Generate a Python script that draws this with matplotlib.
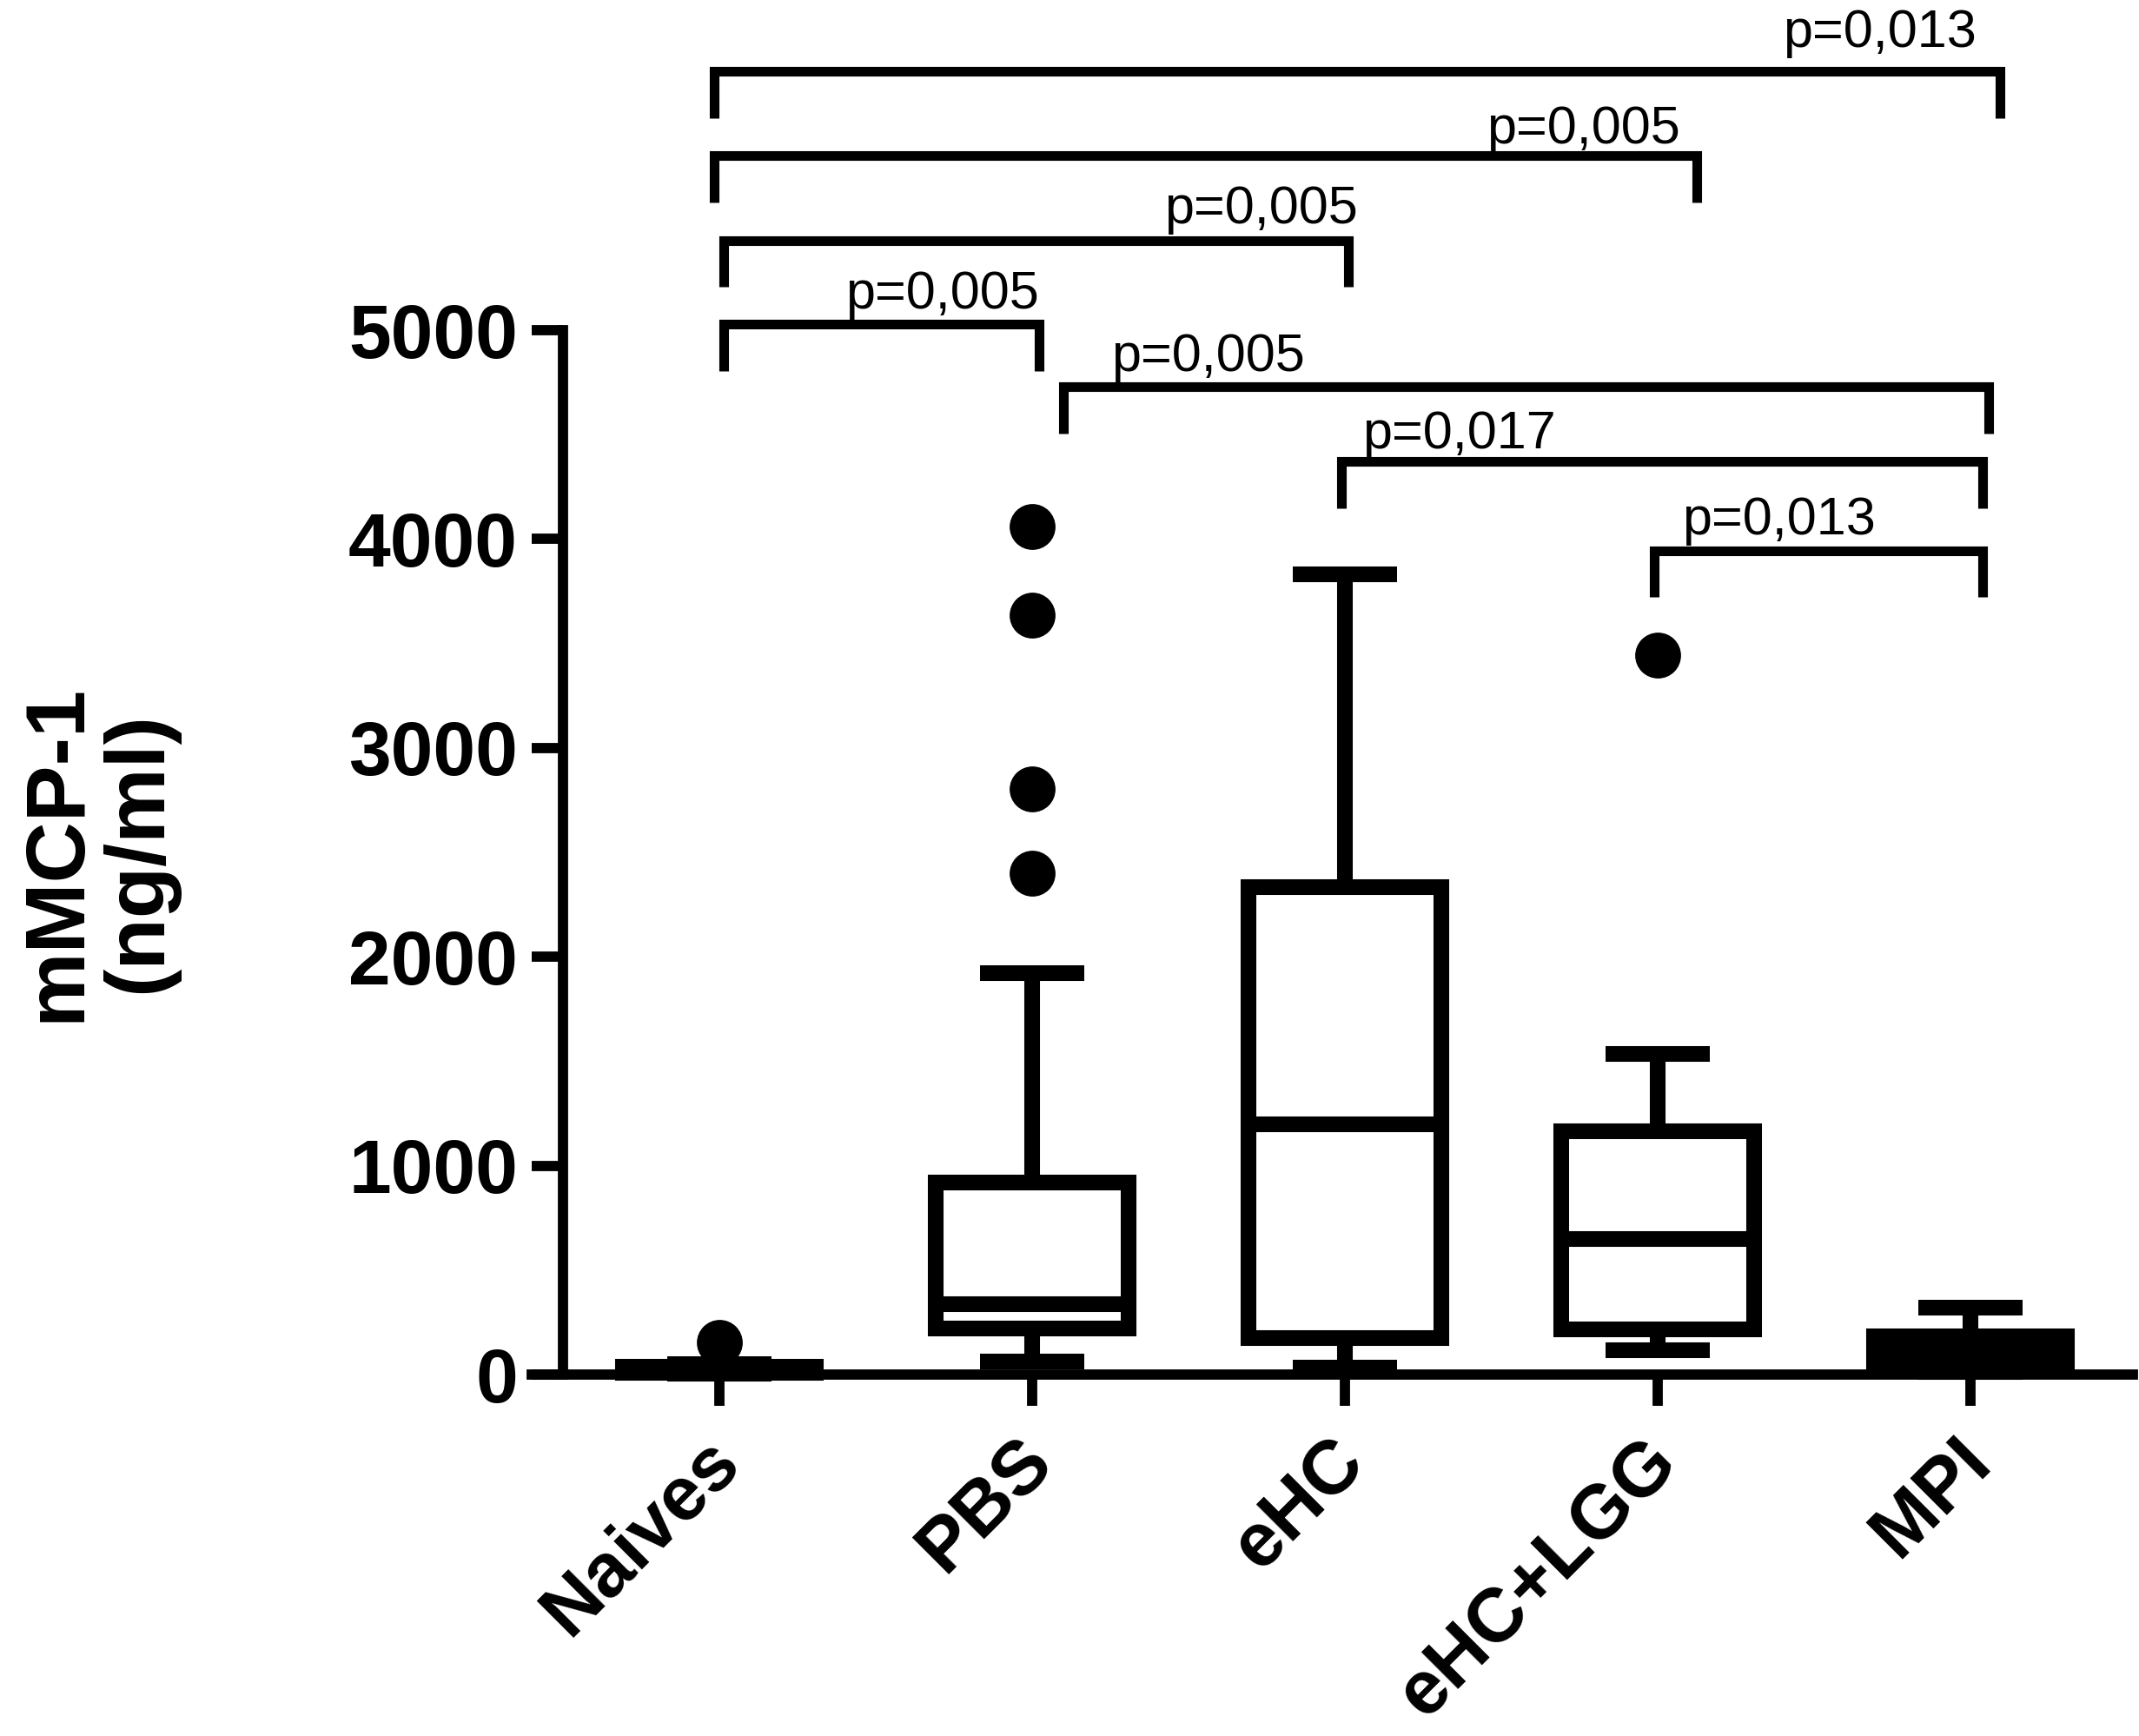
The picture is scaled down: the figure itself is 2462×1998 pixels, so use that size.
import matplotlib
matplotlib.use("Agg")
import matplotlib.pyplot as plt
from matplotlib.transforms import ScaledTranslation

plt.rcParams['font.family'] = ['Liberation Sans', 'DejaVu Sans']

groups = ["Naives", "PBS", "eHC", "eHC+LGG", "MPI"]
whis_lo = [3, 62, 35, 117, 12]
q1 = [10, 220, 173, 217, 22]
median = [20, 335, 1196, 650, 100]
q3 = [37, 919, 2333, 1163, 183]
whis_hi = [50, 1922, 3833, 1536, 322]
outliers = [[155], [2399, 2804, 3634, 4058], [], [3444], []]

p_labels = ["p=0,013", "p=0,005", "p=0,005", "p=0,005", "p=0,005", "p=0,017", "p=0,013"]
# bracket layout (data units): left x, right x, top y, leg end y
br_left = [-0.017, -0.017, 0.014, 0.014, 1.10, 1.99, 2.99]
br_right = [4.094, 3.125, 2.011, 1.022, 4.058, 4.04, 4.04]
br_top = [6240, 5836, 5427, 5029, 4730, 4370, 3944]
br_leg = [6015, 5612, 5208, 4805, 4507, 4149, 3725]
lab_x = [3.40, 2.453, 1.422, 0.403, 1.253, 2.056, 3.078]
lab_y = [6358, 5895, 5512, 5104, 4805, 4434, 4022]

stats = []
for i, g in enumerate(groups):
    stats.append(dict(label=g, whislo=whis_lo[i], q1=q1[i], med=median[i],
                      q3=q3[i], whishi=whis_hi[i], fliers=outliers[i]))

fig = plt.figure(figsize=(24.62, 19.98), dpi=100)
ax = fig.add_axes([0.2486, 0.2082, 0.7486, 0.6016])

lw = 13
res = ax.bxp(stats, positions=range(len(groups)), widths=0.617, capwidths=0.333,
             patch_artist=True, showfliers=True,
             boxprops=dict(facecolor="white", edgecolor="black", linewidth=lw, joinstyle="miter"),
             whiskerprops=dict(color="black", linewidth=lw, solid_capstyle="butt"),
             capprops=dict(color="black", linewidth=lw, solid_capstyle="butt"),
             medianprops=dict(color="black", linewidth=lw, solid_capstyle="butt"),
             flierprops=dict(marker="o", markersize=38, markerfacecolor="black",
                             markeredgecolor="black", markeredgewidth=0))
res["boxes"][4].set_facecolor("black")
for key in res:
    for art in res[key]:
        art.set_clip_on(False)

ax.set_xlim(-0.6, 4.52)
ax.set_ylim(0, 5000)
ax.spines["left"].set_position(("data", -0.5))
ax.spines["top"].set_visible(False)
ax.spines["right"].set_visible(False)
for s in ["left", "bottom"]:
    ax.spines[s].set_linewidth(8.5)

ax.set_yticks([0, 1000, 2000, 3000, 4000, 5000])
ax.set_xticks(range(len(groups)))
ax.set_xticklabels(groups)
ax.tick_params(axis="both", direction="out", length=26, width=8.5)
ax.tick_params(axis="y", pad=11.5, labelsize=63)
ax.tick_params(axis="x", pad=37, labelsize=63)
for t in ax.get_yticklabels():
    t.set_fontweight("bold")
shift = ScaledTranslation(0.1, 0, fig.dpi_scale_trans)
for t in ax.get_xticklabels():
    t.set_fontweight("bold")
    t.set_rotation(45)
    t.set_ha("right")
    t.set_va("center")
    t.set_rotation_mode("anchor")
    t.set_transform(t.get_transform() + shift)

for i in range(len(p_labels)):
    ax.plot([br_left[i], br_left[i], br_right[i], br_right[i]],
            [br_leg[i], br_top[i], br_top[i], br_leg[i]],
            color="black", linewidth=8, solid_joinstyle="miter",
            solid_capstyle="butt", clip_on=False)
    ax.text(lab_x[i], lab_y[i], p_labels[i], fontsize=44, ha="left",
            va="baseline", clip_on=False)

fig.text(113 / 2462, 1 - 981 / 1998, "mMCP-1\n(ng/ml)", rotation=90,
         ha="center", va="center", multialignment="center",
         fontsize=70, fontweight="bold", linespacing=1.05)

fig.savefig("out.png", dpi=100)
